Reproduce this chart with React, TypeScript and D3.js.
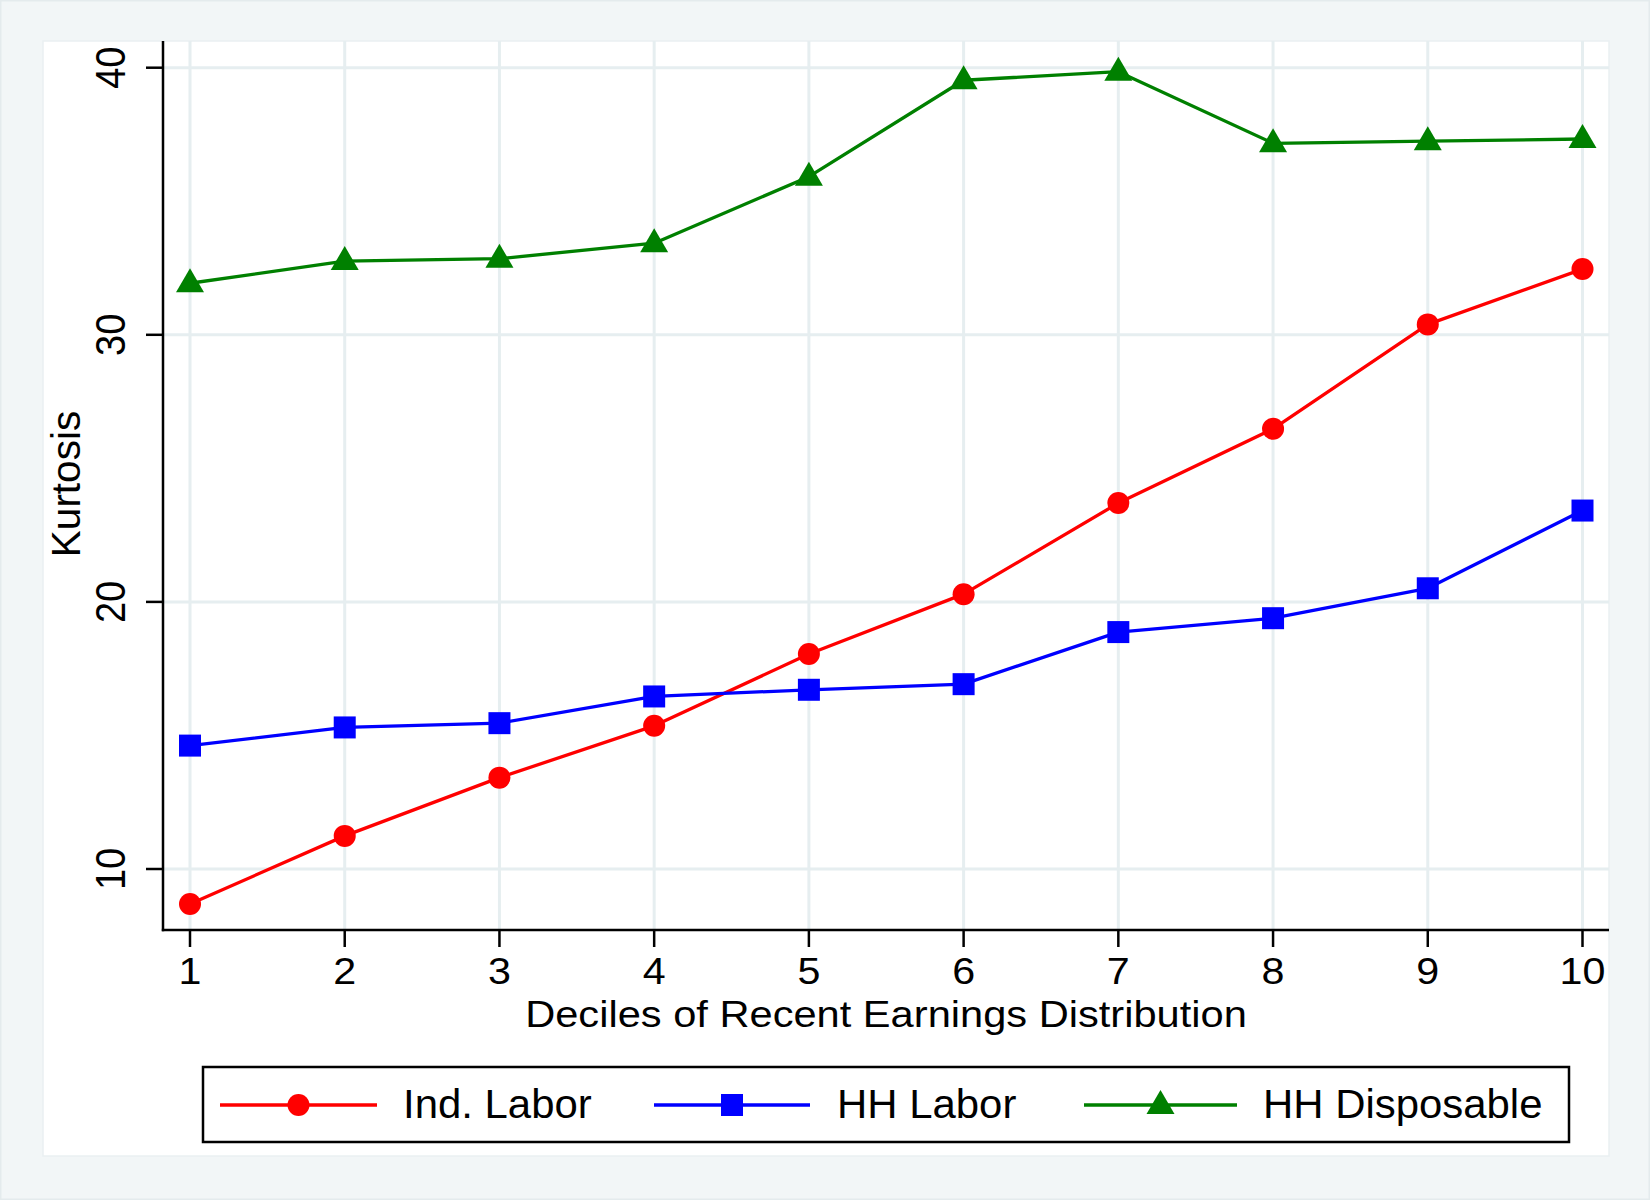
import React from 'react';
import * as d3 from 'd3';

const deciles = [1, 2, 3, 4, 5, 6, 7, 8, 9, 10];
const yTicks = [10, 20, 30, 40];
const indLabor = [8.69, 11.24, 13.42, 15.36, 18.05, 20.29, 23.7, 26.48, 30.39, 32.46];
const hhLabor = [14.62, 15.3, 15.46, 16.46, 16.71, 16.92, 18.87, 19.39, 20.51, 23.42];
const hhDisposable = [31.93, 32.76, 32.85, 33.43, 35.92, 39.53, 39.85, 37.17, 37.25, 37.33];
const seriesNames = ['Ind. Labor', 'HH Labor', 'HH Disposable'];
const xTitle = 'Deciles of Recent Earnings Distribution';
const yTitle = 'Kurtosis';

const FONT = '"Liberation Sans", Arial, Helvetica, sans-serif';

function Marker({ kind, cx, cy, color }: { kind: string; cx: number; cy: number; color: string }) {
  if (kind === 'circle') return <circle cx={cx} cy={cy} r={11} fill={color} />;
  if (kind === 'square') return <rect x={cx - 11} y={cy - 11} width={22} height={22} fill={color} />;
  const p = d3.path();
  p.moveTo(cx, cy - 15);
  p.lineTo(cx + 14, cy + 9);
  p.lineTo(cx - 14, cy + 9);
  p.closePath();
  return <path d={p.toString()} fill={color} />;
}

export default function App() {
  const W = 1650;
  const H = 1200;
  const plot = { left: 163, right: 1609, top: 41, bottom: 930 };
  const x = d3.scaleLinear().domain([1, 10]).range([190, 1582.5]);
  const y = d3.scaleLinear().domain([10, 40]).range([869, 67.7]);

  const series = [
    { name: seriesNames[0], values: indLabor, color: '#ff0000', kind: 'circle', lx: 220, lx2: 377, tx: 403 },
    { name: seriesNames[1], values: hhLabor, color: '#0000ff', kind: 'square', lx: 654, lx2: 810, tx: 837 },
    { name: seriesNames[2], values: hhDisposable, color: '#008000', kind: 'triangle', lx: 1084, lx2: 1237, tx: 1263 },
  ];

  const line = d3
    .line<number>()
    .x((_, i) => x(deciles[i]))
    .y((d) => y(d));

  const gridColor = '#e6eef0';
  const legendY = 1105;

  return (
    <svg
      width={W}
      height={H}
      style={{ position: 'absolute', left: 0, top: 0 }}
      fontFamily={FONT}
    >
      <rect x={0} y={0} width={W} height={H} fill="#f2f6f7" stroke="#e4ebed" strokeWidth={3} />
      <rect x={43} y={41} width={1566} height={1115} fill="#ffffff" stroke="#eaf0f2" strokeWidth={1.5} />

      {/* gridlines */}
      {yTicks.map((t) => (
        <line key={'gy' + t} x1={plot.left} x2={plot.right} y1={y(t)} y2={y(t)} stroke={gridColor} strokeWidth={3} />
      ))}
      {deciles.map((d) => (
        <line key={'gx' + d} x1={x(d)} x2={x(d)} y1={plot.top} y2={plot.bottom} stroke={gridColor} strokeWidth={3} />
      ))}

      {/* axes */}
      <line x1={plot.left} x2={plot.left} y1={plot.top} y2={plot.bottom + 1.2} stroke="#000" strokeWidth={2.5} />
      <line x1={plot.left - 1.2} x2={plot.right} y1={plot.bottom} y2={plot.bottom} stroke="#000" strokeWidth={2.5} />
      {yTicks.map((t) => (
        <g key={'yt' + t}>
          <line x1={146} x2={plot.left} y1={y(t)} y2={y(t)} stroke="#000" strokeWidth={2.5} />
          <text
            transform={`translate(125,${y(t)}) scale(1.12,1) rotate(-90)`}
            textAnchor="middle"
            fontSize={38}
            fill="#000"
          >
            {t}
          </text>
        </g>
      ))}
      {deciles.map((d) => (
        <g key={'xt' + d}>
          <line x1={x(d)} x2={x(d)} y1={plot.bottom} y2={947} stroke="#000" strokeWidth={2.5} />
          <text transform={`translate(${x(d)},984) scale(1.13,1)`} textAnchor="middle" fontSize={36.5} fill="#000">
            {d}
          </text>
        </g>
      ))}

      <text
        transform={`translate(886,1027) scale(1.11,1)`}
        textAnchor="middle"
        fontSize={37.5}
        fill="#000"
      >
        {xTitle}
      </text>
      <text transform={`translate(80,484) rotate(-90)`} textAnchor="middle" fontSize={40.5} fill="#000">
        {yTitle}
      </text>

      {/* series */}
      {series.map((s) => (
        <g key={s.name}>
          <path d={line(s.values) || ''} fill="none" stroke={s.color} strokeWidth={3.3} strokeLinejoin="round" />
          {s.values.map((v, i) => (
            <Marker key={i} kind={s.kind} cx={x(deciles[i])} cy={y(v)} color={s.color} />
          ))}
        </g>
      ))}

      {/* legend */}
      <rect x={203} y={1067} width={1366} height={75} fill="#fff" stroke="#000" strokeWidth={2.5} />
      {series.map((s) => (
        <g key={'lg' + s.name}>
          <line x1={s.lx} x2={s.lx2} y1={legendY} y2={legendY} stroke={s.color} strokeWidth={3.3} />
          <Marker kind={s.kind} cx={(s.lx + s.lx2) / 2} cy={legendY} color={s.color} />
          <text transform={`translate(${s.tx},1118) scale(1.035,1)`} fontSize={40.5} fill="#000">
            {s.name}
          </text>
        </g>
      ))}
    </svg>
  );
}
